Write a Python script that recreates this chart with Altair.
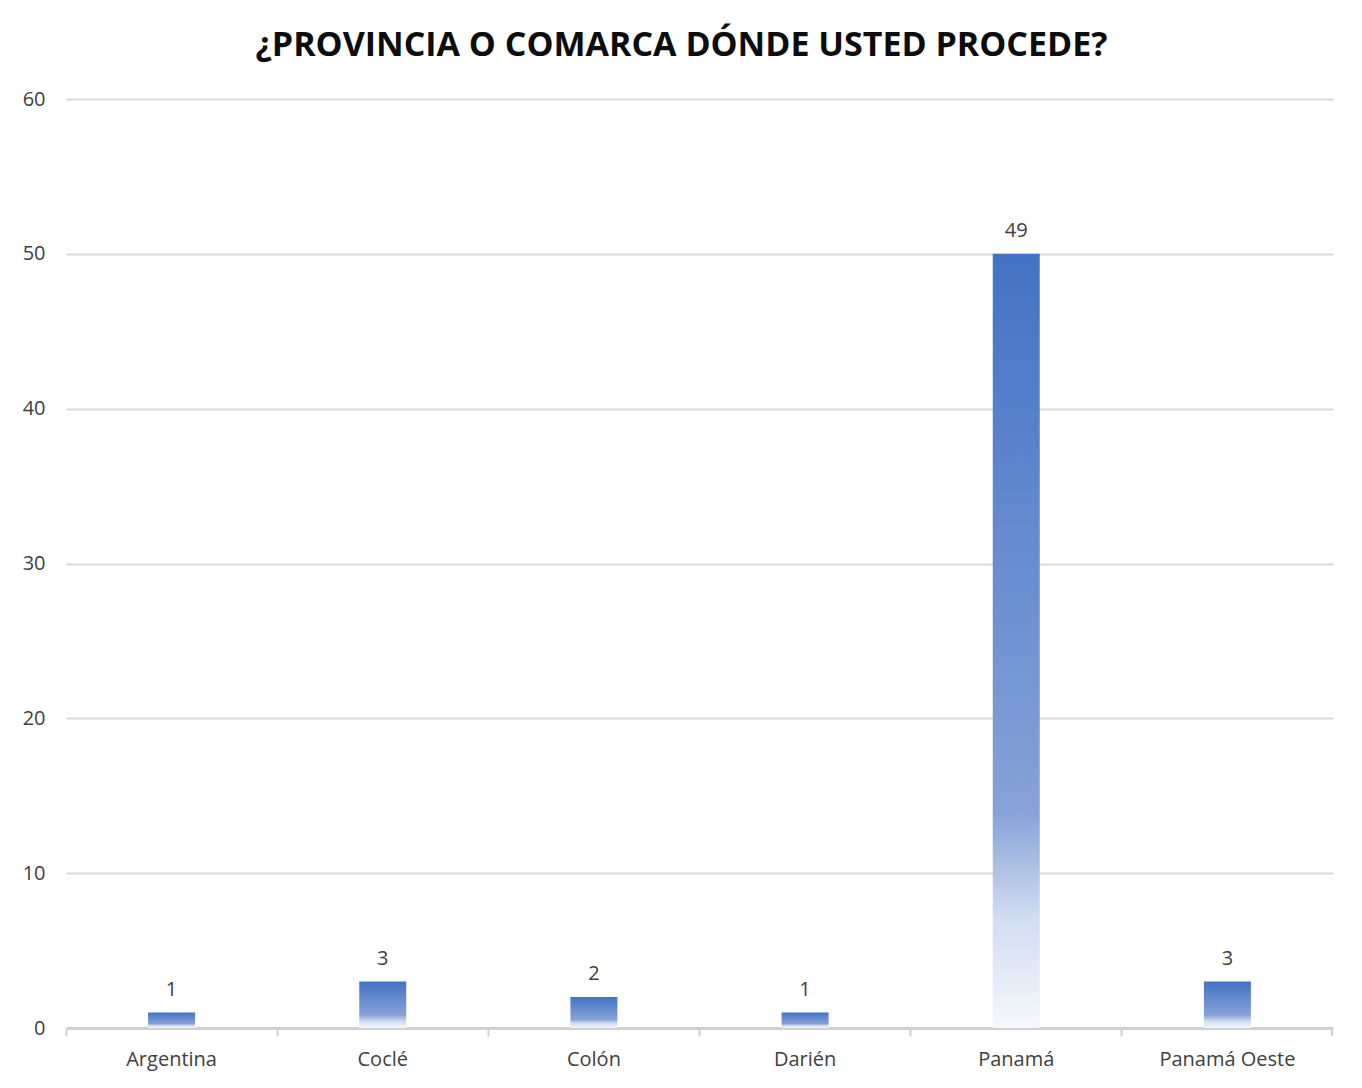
import altair as alt
import pandas as pd

categories = ["Argentina", "Coclé", "Colón", "Darién", "Panamá", "Panamá Oeste"]
values = [1, 3, 2, 1, 50, 3]
value_labels = ["1", "3", "2", "1", "49", "3"]
y_ticks = [0, 10, 20, 30, 40, 50, 60]

df = pd.DataFrame({"cat": categories, "val": values, "lab": value_labels})

FONT = "Open Sans"
W, H = 1267, 929

grad = alt.Gradient(
    gradient="linear",
    x1=0, x2=0, y1=0, y2=1,
    stops=[
        alt.GradientStop(offset=0, color="#4472C4"),
        alt.GradientStop(offset=0.72, color="#86a2d8"),
        alt.GradientStop(offset=0.86, color="#d2ddf1"),
        alt.GradientStop(offset=1, color="#f5f8fc"),
    ],
)

x_enc = alt.X(
    "cat:N",
    sort=categories,
    title=None,
    scale=alt.Scale(paddingInner=0, paddingOuter=0),
    axis=alt.Axis(
        labelAngle=0,
        labelFont=FONT,
        labelFontSize=20,
        labelColor="#404040",
        labelPadding=13,
        domainColor="#d0d0d0",
        domainWidth=3,
        tickColor="#d0d0d0",
        tickWidth=2,
        tickSize=8,
        bandPosition=0,
        grid=False,
    ),
)

y_enc = alt.Y(
    "val:Q",
    title=None,
    scale=alt.Scale(domain=[0, 60], nice=False),
    axis=alt.Axis(
        values=y_ticks,
        labelFont=FONT,
        labelFontSize=20,
        labelColor="#404040",
        labelPadding=21,
        domain=False,
        ticks=False,
        grid=True,
        gridColor="#d9d9d9",
        gridWidth=2,
    ),
)

base = alt.Chart(df)

bars = base.mark_bar(size=47, color=grad).encode(x=x_enc, y=y_enc)

text = base.mark_text(
    font=FONT, fontSize=20, color="#404040", baseline="bottom", dy=-13
).encode(x=alt.X("cat:N", sort=categories), y="val:Q", text="lab:N")

end_tick = alt.Chart(df).mark_rule(color="#d0d0d0", strokeWidth=2).encode(
    x=alt.value(W - 1), y=alt.value(H), y2=alt.value(H + 8)
)

chart = (
    alt.layer(bars, text, end_tick)
    .properties(
        width=W,
        height=H,
        padding={"left": 58, "top": 91, "right": 21, "bottom": 52},
        autosize=alt.AutoSizeParams(type="none"),
        background="white",
        title=alt.TitleParams(
            "¿PROVINCIA O COMARCA DÓNDE USTED PROCEDE?",
            font=FONT,
            fontSize=34,
            fontWeight="bold",
            color="#0d0d0d",
            anchor="middle",
            dx=-18,
            offset=26,
        ),
    )
    .configure_view(stroke=None)
)

chart.save("out.html", embed_options={"renderer": "svg", "actions": False})
